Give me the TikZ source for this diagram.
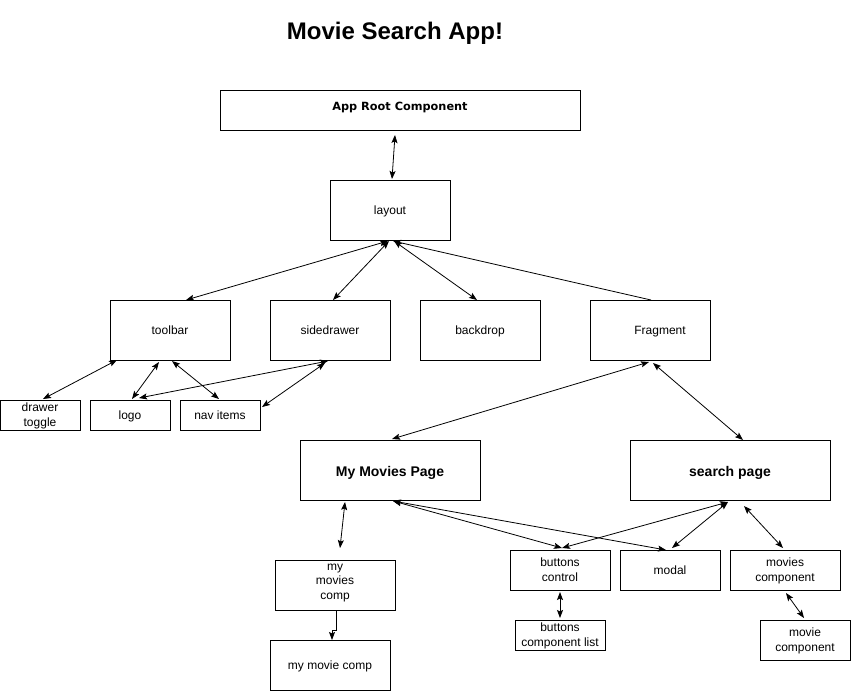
\documentclass[tikz,border=0pt]{standalone}
\usepackage{fontspec}
\setmainfont{Liberation Sans}
\newfontfamily\rootfont{DejaVu Sans}
\usetikzlibrary{positioning, arrows.meta}
\tikzset{
        >={Stealth[length=8pt, width=6pt, inset=1.5pt]}, % filled arrow heads
        comp/.style={draw, line width=0.8pt, inner sep=0pt, outer sep=0pt,
                align=center, text height=8.6pt, text depth=0pt,
                font=\fontsize{12}{14.5}\selectfont},
        twoline/.style={text height=22.6pt, text depth=0pt},
        page/.style={comp, minimum height=60pt, text height=12pt,
                font=\bfseries\fontsize{14}{16}\selectfont},
        link/.style={line width=0.8pt}
        }
\begin{document}
\begin{tikzpicture}[x=1pt, y=-1pt]
        \useasboundingbox (0,0) rectangle (851,691);
        \node (title) at (395,33) {\bfseries\fontsize{24}{27}\selectfont Movie Search App!};

        \node[comp, minimum width=360pt, minimum height=40pt, text height=9.5pt, text depth=8.5pt,
              font=\rootfont\bfseries\fontsize{11.3}{13}\selectfont] (root) at (400,110) {App Root Component};
        \node[comp, minimum width=120pt, minimum height=60pt] (layout) at (390,210) {layout};

        % second row
        \node[comp, minimum width=120pt, minimum height=60pt] (toolbar) at (170,330) {toolbar};
        \node[comp, minimum width=120pt, minimum height=60pt, right=40pt of toolbar] (sidedrawer) {sidedrawer};
        \node[comp, minimum width=120pt, minimum height=60pt, right=30pt of sidedrawer] (backdrop) {backdrop};
        \node[comp, minimum width=120pt, minimum height=60pt, right=50pt of backdrop] (fragment) {\hspace*{20pt}Fragment};

        \node[comp, twoline, minimum width=80pt, minimum height=30pt] (toggle) at (40,415) {drawer\\toggle};
        \node[comp, minimum width=80pt, minimum height=30pt, right=10pt of toggle] (logo) {logo};
        \node[comp, minimum width=80pt, minimum height=30pt, right=10pt of logo] (navitems) {nav items};

        % pages
        \node[page, minimum width=180pt] (mmpage) at (390,470) {My Movies Page};
        \node[page, minimum width=200pt] (search) at (730,470) {search page};

        \node[comp, text height=28.6pt, minimum width=120pt, minimum height=50pt] (mmcomp) at (335,585) {my\\movies\\comp};
        \node[comp, minimum width=120pt, minimum height=50pt] (mmvcomp) at (330,665) {my movie comp};

        \node[comp, twoline, minimum width=100pt, minimum height=40pt] (btnctrl) at (560,570) {buttons\\control};
        \node[comp, minimum width=100pt, minimum height=40pt, right=10pt of btnctrl] (modal) {modal};
        \node[comp, twoline, minimum width=110pt, minimum height=40pt, right=10pt of modal] (moviescomp) {movies\\component};
        \node[comp, twoline, minimum width=90pt, minimum height=30pt] (btnlist) at (560,635) {buttons\\component list};
        \node[comp, twoline, minimum width=90pt, minimum height=40pt] (moviecomp) at (805,640) {movie\\component};

        \draw[link, <->] ([xshift=-5pt,yshift=-5pt]root.south) -- ([xshift=2pt,yshift=1pt]layout.north);
        \draw[link, <->] ([xshift=16pt]toolbar.north) -- ([xshift=-2pt,yshift=-1pt]layout.south);
        \draw[link, <->] ([xshift=3pt]sidedrawer.north) -- ([xshift=-1pt,yshift=-1pt]layout.south);
        \draw[link, <->] ([xshift=-3pt]backdrop.north) -- ([xshift=4pt,yshift=-1pt]layout.south);
        \draw[link, ->] ([xshift=1pt]fragment.north) -- ([xshift=3pt,yshift=-1pt]layout.south);

        \draw[link, <->] ([xshift=-53pt]toolbar.south) -- ([xshift=3pt,yshift=1pt]toggle.north);
        \draw[link, <->] ([xshift=-11pt,yshift=-2pt]toolbar.south) -- ([xshift=2pt,yshift=1pt]logo.north);
        \draw[link, <->] ([xshift=2pt,yshift=-1pt]toolbar.south) -- ([xshift=-1pt,yshift=1pt]navitems.north);
        \draw[link, <->] ([xshift=-2pt,yshift=-1pt]sidedrawer.south) -- ([xshift=9pt,yshift=2pt]logo.north);
        \draw[link, <->] ([xshift=-5pt,yshift=-3pt]sidedrawer.south) -- ([xshift=2pt,yshift=8pt]navitems.east);

        \draw[link, <->] ([xshift=-1pt,yshift=-2pt]fragment.south) -- ([xshift=2pt,yshift=1pt]mmpage.north);
        \draw[link, <->] ([xshift=3pt,yshift=-3pt]fragment.south) -- ([xshift=13pt]search.north);

        \draw[link, <->] ([xshift=-45pt,yshift=-2pt]mmpage.south) -- ([xshift=5pt,yshift=12pt]mmcomp.north);
        \draw[link, ->] ([xshift=1pt]mmcomp.south) -- ++(0,20) -| ([xshift=2pt]mmvcomp.north);
        \draw[link, <->] ([xshift=3pt,yshift=-1pt]mmpage.south) -- ([xshift=2pt,yshift=2pt]btnctrl.north);
        \draw[link, <->] ([xshift=3pt,yshift=-1pt]mmpage.south) -- ([xshift=-4pt]modal.north);
        \draw[link, <->] ([xshift=-2pt,yshift=-2pt]search.south) -- ([xshift=2pt,yshift=2pt]btnctrl.north);
        \draw[link, <->] ([xshift=-2pt,yshift=-2pt]search.south) -- ([xshift=2pt,yshift=2pt]modal.north);
        \draw[link, <->] ([xshift=14pt,yshift=-6pt]search.south) -- ([xshift=-2pt,yshift=2pt]moviescomp.north);
        \draw[link, <->] ([yshift=-2pt]btnctrl.south) -- ([yshift=2pt]btnlist.north);
        \draw[link, <->] ([xshift=1pt,yshift=-3pt]moviescomp.south) -- ([xshift=-1pt,yshift=2pt]moviecomp.north);
\end{tikzpicture}
\end{document}
